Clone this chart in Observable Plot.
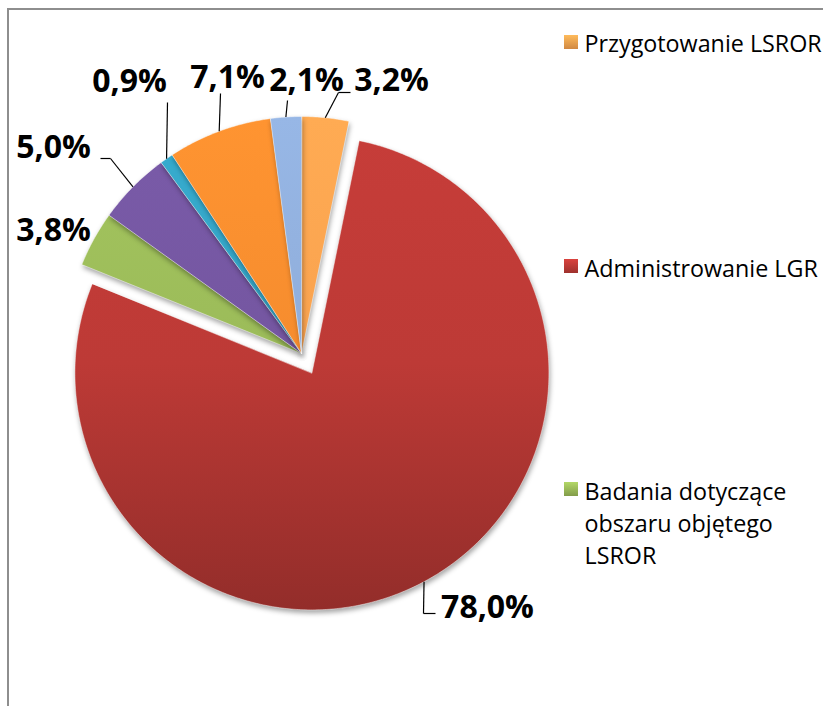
<!DOCTYPE html>
<html><head><meta charset="utf-8">
<script src="https://cdn.jsdelivr.net/npm/d3@7"></script>
<script src="https://cdn.jsdelivr.net/npm/@observablehq/plot@0.6"></script>
<style>
html,body{margin:0;padding:0;background:#fff;overflow:hidden;width:823px;height:706px}
#wrap{position:relative;width:823px;height:706px;overflow:hidden}
#frame{position:absolute;left:7px;top:8px;width:900px;height:800px;border-left:2px solid #8e8e8e;border-top:2px solid #8e8e8e;box-sizing:border-box;pointer-events:none}
#chart{position:absolute;left:0;top:0}
svg g[aria-label="line"] path{filter:drop-shadow(1px 3px 2.5px rgba(0,0,0,0.35));}
</style></head><body><div id="wrap"><div id="chart"></div><div id="frame"></div></div>
<script>
// ---- data ----
const categories = ["Przygotowanie LSROR", "Administrowanie LGR", "Badania dotyczące obszaru objętego LSROR", "Kategoria 4", "Kategoria 5", "Kategoria 6", "Kategoria 7"];
const values = [3.2, 78.0, 3.8, 5.0, 0.9, 7.1, 2.1];
const legendCategories = ["Przygotowanie LSROR", "Administrowanie LGR", "Badania dotyczące\nobszaru objętego\nLSROR"];

// ---- style / layout ----
const colors = ["#f9a24f", "#bd3a36", "#9bbb59", "#7456a0", "#34a3c4", "#f58c2e", "#8fadda"];
const explode = [0, 0.093, 0, 0, 0, 0, 0];
const W = 823, H = 706, R = 237, CX = 301, CY = 353;
const ux = px => (px - CX) / R, uy = py => (CY - py) / R;
// label centre and leader bend points (pixels)
const labelLayout = [
  {x: 391, y: 80, path: [[338, 92], [350, 92]]},
  {x: 487, y: 607, path: [[423, 613], [435, 613]]},
  {x: 53, y: 230, path: null},
  {x: 53, y: 147, path: [[110, 158], [100, 158]]},
  {x: 129, y: 81, path: [[167, 102]]},
  {x: 227, y: 77, path: [[220, 93]]},
  {x: 306, y: 80, path: [[287, 100]]}
];
const legendLayout = [{y: 42, ty: 41}, {y: 266, ty: 266}, {y: 489, ty: 521}];
const fmt = v => d3.format(".1f")(v).replace(".", ",") + "%";

// ---- geometry from data ----
const arcs = d3.pie().sort(null).value(d => d)(values);
const slicePts = arcs.map((a, i) => {
  const mid = (a.startAngle + a.endAngle) / 2;
  const ox = explode[i] * Math.sin(mid), oy = explode[i] * Math.cos(mid);
  const pts = [{x: ox, y: oy}];
  const n = Math.max(2, Math.ceil((a.endAngle - a.startAngle) / 0.01));
  for (let k = 0; k <= n; k++) {
    const t = a.startAngle + (a.endAngle - a.startAngle) * k / n;
    pts.push({x: ox + Math.sin(t), y: oy + Math.cos(t)});
  }
  return {pts, mid, ox, oy};
});

const leaderSegs = [];
slicePts.forEach((s, i) => {
  const L = labelLayout[i];
  if (!L.path) return;
  let prev = {x: s.ox + Math.sin(s.mid), y: s.oy + Math.cos(s.mid)};
  for (const [px, py] of L.path) {
    const nxt = {x: ux(px), y: uy(py)};
    leaderSegs.push({x1: prev.x, y1: prev.y, x2: nxt.x, y2: nxt.y});
    prev = nxt;
  }
});

const labelData = values.map((v, i) => ({x: ux(labelLayout[i].x), y: uy(labelLayout[i].y), text: fmt(v)}));

const sq = 7 / R;
const legendBoxes = legendCategories.map((c, i) => ({
  x1: ux(571) - sq, x2: ux(571) + sq, y1: uy(legendLayout[i].y) - sq, y2: uy(legendLayout[i].y) + sq, i
}));
const legendText = legendCategories.map((c, i) => ({x: ux(584), y: uy(legendLayout[i].ty), text: c}));

const marks = [];
slicePts.forEach((s, i) => {
  marks.push(Plot.line(s.pts, {x: "x", y: "y", fill: `url(#g${i})`, stroke: "#ffffff", strokeOpacity: 0.45, strokeWidth: 1, curve: "linear-closed"}));
});
marks.push(Plot.link(leaderSegs, {x1: "x1", y1: "y1", x2: "x2", y2: "y2", stroke: "#000", strokeWidth: 1.2}));
marks.push(Plot.text(labelData, {x: "x", y: "y", text: "text", fontSize: 32, fontWeight: "bold", fontFamily: "Open Sans", fill: "#000", textAnchor: "middle", lineAnchor: "middle"}));
legendBoxes.forEach((b, i) => {
  marks.push(Plot.rect([b], {x1: "x1", x2: "x2", y1: "y1", y2: "y2", fill: `url(#lg${i})`}));
});
marks.push(Plot.text(legendText, {x: "x", y: "y", text: "text", fontSize: 23.3, fontFamily: "Open Sans", fill: "#000", textAnchor: "start", lineAnchor: "middle", lineHeight: 1.38}));

const plot = Plot.plot({
  width: W, height: H, margin: 0,
  x: {domain: [ux(0), ux(W)], axis: null},
  y: {domain: [uy(H), uy(0)], axis: null},
  style: {background: "transparent", overflow: "visible"},
  marks
});

// gradients
const svg = d3.select(plot);
const defs = svg.insert("defs", ":first-child");
colors.forEach((c, i) => {
  const g = defs.append("linearGradient").attr("id", `g${i}`).attr("gradientUnits", "userSpaceOnUse")
    .attr("x1", 0).attr("x2", 0).attr("y1", CY - R).attr("y2", CY + R + 20);
  g.append("stop").attr("offset", 0).attr("stop-color", d3.color(c).brighter(0.15).formatHex());
  g.append("stop").attr("offset", 0.5).attr("stop-color", c);
  g.append("stop").attr("offset", 1).attr("stop-color", d3.color(c).darker(0.7).formatHex());
  const lg = defs.append("linearGradient").attr("id", `lg${i}`).attr("x1", 0).attr("x2", 0).attr("y1", 0).attr("y2", 1);
  lg.append("stop").attr("offset", 0).attr("stop-color", d3.color(c).brighter(0.4).formatHex());
  lg.append("stop").attr("offset", 1).attr("stop-color", d3.color(c).darker(0.5).formatHex());
});
document.getElementById("chart").appendChild(plot);
</script>
</body></html>
